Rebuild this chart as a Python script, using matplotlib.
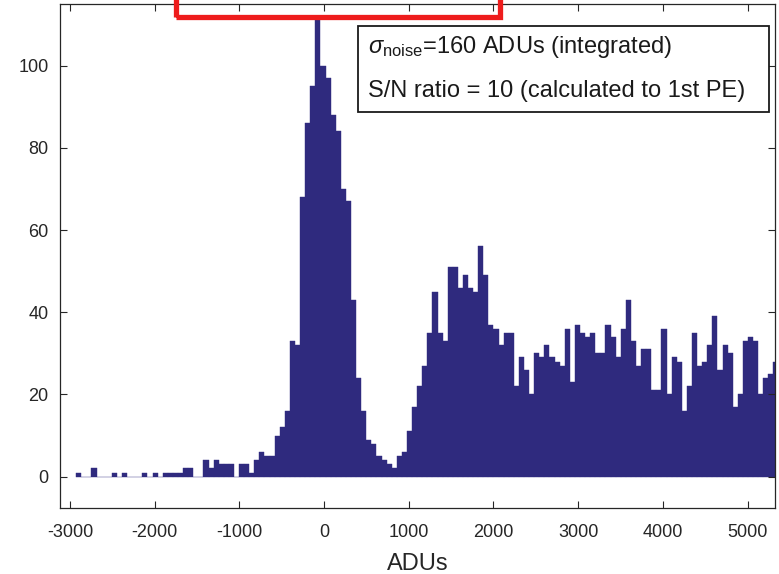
import numpy as np
import matplotlib
matplotlib.use("Agg")
import matplotlib.pyplot as plt
from matplotlib.patches import Rectangle

# Histogram of integrated pulse charge (ADUs)
bin_start = -2928.0     # left edge of first bin, ADUs
bin_width = 60.1        # ADUs per bin
counts = [
    1, 0, 0, 2, 0, 0, 0, 1, 0, 1,
    0, 0, 0, 1, 0, 1, 0, 1, 1, 1,
    1, 2, 2, 0, 0, 4, 2, 4, 3, 3,
    3, 0, 3, 3, 1, 4, 6, 5, 5, 10,
    12, 16, 33, 32, 68, 86, 95, 112, 100, 97,
    88, 84, 70, 67, 43, 24, 16, 9, 8, 5,
    4, 3, 2, 5, 6, 11, 17, 22, 27, 35,
    45, 35, 33, 51, 51, 46, 49, 46, 45, 56,
    49, 37, 36, 32, 35, 35, 22, 29, 26, 20,
    30, 29, 32, 29, 28, 27, 36, 23, 37, 35,
    34, 35, 30, 30, 37, 34, 29, 36, 43, 33,
    27, 31, 31, 21, 21, 36, 20, 29, 28, 16,
    22, 35, 27, 28, 32, 39, 26, 32, 30, 17,
    20, 33, 34, 33, 20, 24, 25, 28,
]
x_ticks = [-3000, -2000, -1000, 0, 1000, 2000, 3000, 4000, 5000]
y_ticks = [0, 20, 40, 60, 80, 100]
x_limits = (-3125, 5325)
y_limits = (-7.7, 115)
x_label = "ADUs"
note_line1 = r"$\sigma_{\mathregular{noise}}$=160 ADUs (integrated)"
note_line2 = "S/N ratio = 10 (calculated to 1st PE)"

bar_color = "#2f2a7e"
axis_color = "#262626"

plt.rcParams["font.family"] = ["Liberation Sans", "DejaVu Sans"]
plt.rcParams["mathtext.fontset"] = "custom"
plt.rcParams["mathtext.rm"] = "Liberation Sans"
plt.rcParams["mathtext.it"] = "Liberation Sans:italic"
plt.rcParams["axes.unicode_minus"] = False

fig = plt.figure(figsize=(7.79, 5.74), dpi=100)
ax = fig.add_axes([0.0764, 0.1145, 0.9185, 0.8785])

edges = bin_start + bin_width * np.arange(len(counts) + 1)
ax.bar(edges[:-1], counts, width=bin_width, align="edge",
       color=bar_color, edgecolor=bar_color, linewidth=0.3)

ax.set_xlim(*x_limits)
ax.set_ylim(*y_limits)
ax.set_xticks(x_ticks)
ax.set_yticks(y_ticks)
ax.tick_params(axis="both", direction="in", length=5, width=0.8,
               colors=axis_color, labelsize=13, top=True, right=True)
ax.tick_params(axis="x", pad=11)
ax.tick_params(axis="y", pad=8)
for sp in ax.spines.values():
    sp.set_color(axis_color)
    sp.set_linewidth(0.9)
ax.set_xlabel(x_label, fontsize=17, color=axis_color, labelpad=9)

# annotation box
box = Rectangle((0.417, 0.786), 0.5746, 0.170, transform=ax.transAxes,
                facecolor="white", edgecolor="#1a1a1a", linewidth=1.3,
                zorder=5)
ax.add_patch(box)
ax.text(0.431, 0.902, note_line1, transform=ax.transAxes, fontsize=17,
        color="#1a1a1a", va="baseline", ha="left", zorder=6)
ax.text(0.431, 0.815, note_line2, transform=ax.transAxes, fontsize=17,
        color="#1a1a1a", va="baseline", ha="left", zorder=6)

# red highlight frame over the top edge
w, h = 779.0, 574.0
frame = Rectangle((176 / w, 1 - 16.7 / h), (499.5 - 176) / w, 0.2,
                  transform=fig.transFigure, facecolor="none",
                  edgecolor="#ee1c1c", linewidth=3.8, clip_on=False,
                  zorder=10)
fig.patches.append(frame)

fig.savefig("out.png", dpi=100, facecolor="white")
